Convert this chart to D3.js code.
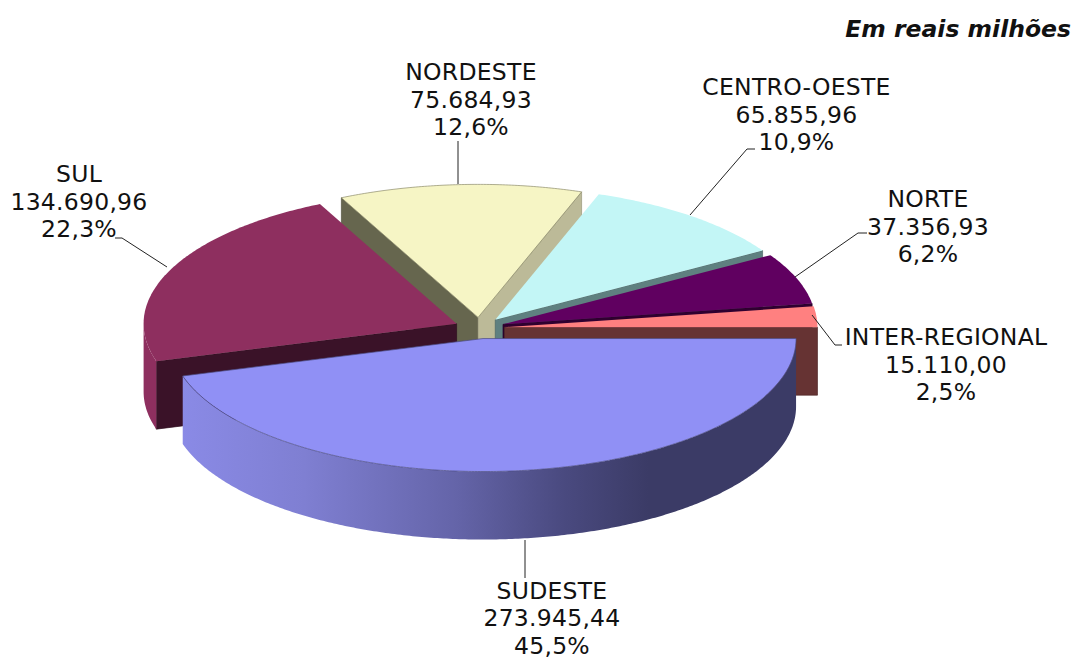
<!DOCTYPE html>
<html>
<head>
<meta charset="utf-8">
<script src="https://cdn.jsdelivr.net/npm/d3@7"></script>
<style>
  html, body { margin: 0; padding: 0; background: #fff; }
  svg { display: block; }
  text { font-family: "DejaVu Sans", Verdana, sans-serif; fill: #111; }
</style>
</head>
<body>
<div id="d3-container"></div>
<script>
// Data, in pie order (clockwise from 3 o'clock)
const regions = ["SUDESTE", "SUL", "NORDESTE", "CENTRO-OESTE", "NORTE", "INTER-REGIONAL"];
const values = [273945.44, 134690.96, 75684.93, 65855.96, 37356.93, 15110.00];
const valueLabels = ["273.945,44", "134.690,96", "75.684,93", "65.855,96", "37.356,93", "15.110,00"];
const percentLabels = ["45,5%", "22,3%", "12,6%", "10,9%", "6,2%", "2,5%"];

// Colours per region
const topColors = ["#9090f5", "#8e2f5f", "#f6f5c5", "#c3f6f6", "#600060", "#ff8080"];
const startWallColors = [null, "#3a1228", "#66664e", null, null, null];
const endWallColors = [null, null, "#bcba98", "#5f8080", "#300030", "#663333"];

// Where each label sits (label centre, first baseline) and its leader line
const labelX = [552, 79, 471, 796.5, 928, 946];
const labelY = [598.5, 182, 80, 95, 207, 345];
const leaderPaths = [
  [[525, 540], [525, 578]],
  [[167, 267], [122, 238], [115, 238]],
  [[458, 184], [458, 141]],
  [[690, 215], [747, 149], [755, 149]],
  [[795, 277], [858, 233], [867, 233]],
  [[812, 315], [835, 345], [842, 345]]
];

const width = 1074;
const height = 659;
const cx = 479.5, cy = 328;   // pie centre before the slices are pulled out
const rx = 313, ry = 133;     // ellipse of the tilted pie
const depth = 68;             // thickness
const explode = 0.08;
const lineGap = 27.5;

const svg = d3.select("#d3-container")
  .append("svg")
  .attr("width", width)
  .attr("height", height);

const x = d3.scaleLinear().domain([-1, 1]).range([cx - rx, cx + rx]);
const y = d3.scaleLinear().domain([-1, 1]).range([cy - ry, cy + ry]);

const pie = d3.pie().sort(null).startAngle(Math.PI / 2).endAngle(Math.PI * 2.5);
const slices = pie(values).map((d, i) => {
  const mid = (d.startAngle + d.endAngle) / 2;
  return { ...d, i, mid, ox: explode * Math.sin(mid), oy: -explode * Math.cos(mid) };
});

// angle measured clockwise from 12 o'clock, r 0..1, dz going down
function pt(s, angle, r, dz) {
  return [
    x(s.ox + r * Math.sin(angle)),
    y(s.oy - r * Math.cos(angle)) + dz
  ];
}

function arcPts(s, a0, a1, dz) {
  const n = Math.max(2, Math.ceil((a1 - a0) / 0.01));
  return d3.range(n + 1).map(k => pt(s, a0 + (a1 - a0) * k / n, 1, dz));
}

const line = d3.line();
const closed = pts => line(pts) + "Z";

// Rim gradient of the big slice, light on the left and dark to the right
const grad = svg.append("defs").append("linearGradient")
  .attr("id", "rimBlue")
  .attr("gradientUnits", "userSpaceOnUse")
  .attr("x1", 181).attr("x2", 796).attr("y1", 0).attr("y2", 0);
[[0, "#8a8ae6"], [0.2, "#7f7fd2"], [0.45, "#6464a8"], [0.62, "#4a4a80"], [0.76, "#3b3b66"], [1, "#3b3b66"]]
  .forEach(st => grad.append("stop").attr("offset", st[0]).attr("stop-color", st[1]));

// Painter's order, back to front
const drawOrder = [2, 3, 4, 5, 1, 0];
const pieG = svg.append("g");

drawOrder.forEach(i => {
  const s = slices[i];
  const g = pieG.append("g").attr("class", "slice");
  const apex = pt(s, 0, 0, 0);
  const apexLow = pt(s, 0, 0, depth);

  // Radial wall on the side the slice starts
  if (startWallColors[i]) {
    g.append("path")
      .attr("d", closed([apex, pt(s, s.startAngle, 1, 0), pt(s, s.startAngle, 1, depth), apexLow]))
      .attr("fill", startWallColors[i])
      .attr("stroke", d3.color(startWallColors[i]).darker(0.6))
      .attr("stroke-width", 0.7);
  }
  // Radial wall on the side the slice ends
  if (endWallColors[i]) {
    g.append("path")
      .attr("d", closed([apex, pt(s, s.endAngle, 1, 0), pt(s, s.endAngle, 1, depth), apexLow]))
      .attr("fill", endWallColors[i])
      .attr("stroke", d3.color(endWallColors[i]).darker(0.6))
      .attr("stroke-width", 0.7);
  }

  // Outer rim, only the part turned to the viewer
  const a0 = Math.max(s.startAngle, Math.PI / 2);
  const a1 = Math.min(s.endAngle, Math.PI * 1.5);
  if (a1 > a0) {
    g.append("path")
      .attr("d", closed(arcPts(s, a0, a1, 0).concat(arcPts(s, a0, a1, depth).reverse())))
      .attr("fill", i === 0 ? "url(#rimBlue)" : topColors[i]);
  }

  // Top surface
  g.append("path")
    .attr("d", closed([apex].concat(arcPts(s, s.startAngle, s.endAngle, 0))))
    .attr("fill", topColors[i])
    .attr("stroke", i === 0 ? "#4a4a80" : (i === 2 ? "#8c8b6a" : "none"))
    .attr("stroke-width", 0.7);
});

// Leader lines
leaderPaths.forEach(p => {
  svg.append("path")
    .attr("d", line(p))
    .attr("fill", "none")
    .attr("stroke", "#222")
    .attr("stroke-width", 1);
});

// Labels: name, value, share
regions.forEach((name, i) => {
  const t = svg.append("text")
    .attr("text-anchor", "middle")
    .attr("font-size", "23.5px")
    .attr("letter-spacing", "0.25px");
  [name, valueLabels[i], percentLabels[i]].forEach((str, k) => {
    t.append("tspan")
      .attr("x", labelX[i])
      .attr("y", labelY[i] + k * lineGap)
      .text(str);
  });
});

svg.append("text")
  .attr("x", 1071)
  .attr("y", 37)
  .attr("text-anchor", "end")
  .attr("font-size", "23.5px")
  .attr("font-weight", "bold")
  .attr("font-style", "italic")
  .text("Em reais milhões");
</script>
</body>
</html>
